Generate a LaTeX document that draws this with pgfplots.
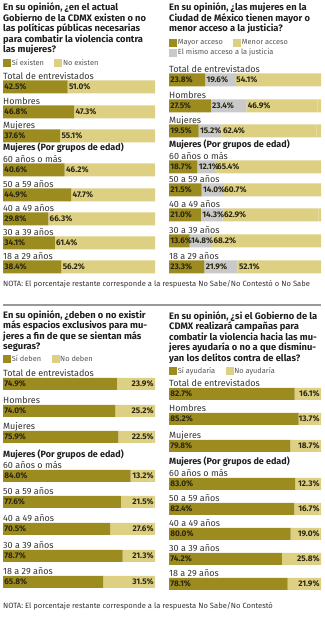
\documentclass[border=0pt]{standalone}
\usepackage{fontspec}
\setmainfont{Fira Sans}
\usepackage{pgfplots}
\pgfplotsset{compat=1.18}
\usepackage{pgfplotstable}

\definecolor{cDark}{HTML}{9C8B1E}
\definecolor{cLight}{HTML}{DDD083}
\definecolor{cGray}{HTML}{C9C9C9}
\definecolor{cTitle}{HTML}{1F1F1F}
\definecolor{cLab}{HTML}{333333}
\definecolor{cNum}{HTML}{2A2612}
\definecolor{cLeg}{HTML}{555555}

% y = row position (pt from the bottom of the picture), a = first answer,
% g = same access, b = second answer, r = rest (NS/NC)
\pgfplotstableread{
y a b r
533 42.5 51.0 6.5
508 46.8 47.3 5.9
484 37.6 55.1 7.3
450 40.6 46.2 13.2
425 44.9 47.7 7.4
401 29.8 66.3 3.9
377 34.1 61.4 4.5
353 38.4 56.2 5.4
}\tabA
\pgfplotstableread{
y a g b r
540 23.8 19.6 54.1 2.5
514 27.5 23.4 46.9 2.2
489 19.5 15.2 62.4 2.9
453 18.7 12.1 65.4 3.8
430 21.5 14.0 60.7 3.8
405 21.0 14.3 62.9 1.8
379 13.6 14.8 68.2 3.4
353 23.3 21.9 52.1 2.7
}\tabB
\pgfplotstableread{
y a b r
236 74.9 23.9 1.2
209 74.0 25.2 0.8
183 75.9 22.5 1.6
144 84.0 13.2 2.8
118 77.6 21.5 0.9
91 70.5 27.6 1.9
64 78.7 21.3 0.0
38 65.8 31.5 2.7
}\tabC
\pgfplotstableread{
y a b r
226 82.7 16.1 1.2
201 85.2 13.7 1.1
174 79.8 18.7 1.5
136 83.0 12.3 4.7
111 82.4 16.7 0.9
86 80.0 19.0 1.0
61 74.2 25.8 0.0
36 78.1 21.9 0.0
}\tabD

\tikzset{numfont/.style={font=\bfseries\fontsize{8.2}{9}\selectfont, text=cNum}}
\newcommand{\pct}{\pgfmathprintnumber[fixed,fixed zerofill,precision=1,assume math mode=true]{\pgfplotspointmeta}\%}
\pgfplotsset{
  base/.style={
    x=1.52pt, y=1pt,
    xmin=0, xmax=100, ymin=0, ymax=620,
    enlargelimits=false, scale only axis, clip=false,
    anchor=south west,
  },
  panel/.style={
    base, xbar stacked,
    axis line style={draw=none}, tick style={draw=none}, major tick length=0pt,
    xtick=\empty,
    yticklabels={Total de entrevistados,Hombres,Mujeres,60 años o más,50 a 59 años,40 a 49 años,30 a 39 años,18 a 29 años},
    yticklabel style={anchor=base west, inner sep=0pt, yshift=7.3pt, font=\fontsize{9}{10}\selectfont, text=cLab},
    bar width=13pt,
    legend columns=2, legend cell align=left,
    legend style={draw=none, fill=none, inner sep=0pt, anchor=west,
      font=\fontsize{7.4}{8}\selectfont, text=cLeg,
      nodes={inner sep=1.3pt},
      /tikz/every even column/.append style={column sep=9pt}},
  },
  labax/.style={base, hide axis},
  sq/.style={legend image code/.code={\fill[#1] (0pt,-3.5pt) rectangle (7pt,3.5pt);}},
  plain/.style={draw=none, fill=#1, forget plot},
  lab/.style={draw=none, no marks,
    nodes near coords={\pct}, point meta=explicit,
    every node near coord/.append style={anchor=#1, inner xsep=1.2pt, inner ysep=0pt, numfont}},
}

\begin{document}
\begin{tikzpicture}[x=1pt,y=1pt]
\useasboundingbox (0,0) rectangle (324,620);
\fill[white] (0,0) rectangle (324,620);

% ---------- Titles ----------
\begin{scope}[every node/.style={anchor=north west, inner sep=0pt, align=left, text=cTitle,
    font=\bfseries\fontsize{9.35}{10.6}\selectfont}]
\node at (3,617.5) {En su opinión, ¿en el actual\\Gobierno de la CDMX existen o no\\las políticas públicas necesarias\\para combatir la violencia contra\\las mujeres?};
\node at (169,617.5) {En su opinión, ¿las mujeres en la\\Ciudad de México tienen mayor o\\menor acceso a la justicia?};
\node at (3,310) {En su opinión, ¿deben o no existir\\más espacios exclusivos para mu-\\jeres a fin de que se sientan más\\seguras?};
\node at (169,309) {En su opinión, ¿si el Gobierno de la\\CDMX realizará campañas para\\combatir la violencia hacia las mu-\\jeres ayudaría o no a que disminu-\\yan los delitos contra de ellas?};
\end{scope}

% ---------- Panel 1 ----------
\begin{axis}[panel, at={(3pt,0pt)},
  ytick={533,508,484,450,425,401,377,353},
  legend style={at={(axis cs:0,557)}}]
\addlegendimage{sq=cDark}\addlegendentry{Sí existen}
\addlegendimage{sq=cLight}\addlegendentry{No existen}
\addplot[plain=cDark] table[x=a,y=y]{\tabA};
\addplot[plain=cLight] table[x=b,y=y]{\tabA};
\addplot[plain=cLight] table[x=r,y=y]{\tabA};
\node[anchor=west, inner sep=0pt, font=\bfseries\fontsize{9}{10}\selectfont, text=cTitle] at (axis cs:0,472) {Mujeres (Por grupos de edad)};
\end{axis}
\begin{axis}[labax, at={(3pt,0pt)}]
\addplot[lab=west] table[x expr=0,y=y,meta=a]{\tabA};
\addplot[lab=west] table[x=a,y=y,meta=b]{\tabA};
\end{axis}

% ---------- Panel 2 ----------
\begin{axis}[panel, at={(169pt,0pt)},
  ytick={540,514,489,453,430,405,379,353},
  legend style={at={(axis cs:0,572)}}]
\addlegendimage{sq=cDark}\addlegendentry{Mayor acceso}
\addlegendimage{sq=cLight}\addlegendentry{Menor acceso}
\addlegendimage{sq=cGray}\addlegendentry{\makebox[0pt][l]{El mismo acceso a la justicia}}
\addplot[plain=cDark] table[x=a,y=y]{\tabB};
\addplot[plain=cGray] table[x=g,y=y]{\tabB};
\addplot[plain=cLight] table[x=b,y=y]{\tabB};
\addplot[plain=cLight] table[x=r,y=y]{\tabB};
\node[anchor=west, inner sep=0pt, font=\bfseries\fontsize{9}{10}\selectfont, text=cTitle] at (axis cs:0,475) {Mujeres (Por grupos de edad)};
\end{axis}
\begin{axis}[labax, at={(169pt,0pt)}]
\addplot[lab=west] table[x expr=0,y=y,meta=a]{\tabB};
\addplot[lab=west] table[x=a,y=y,meta=g]{\tabB};
\addplot[lab=west] table[x expr=\thisrow{a}+\thisrow{g},y=y,meta=b]{\tabB};
\end{axis}

% ---------- Panel 3 ----------
\begin{axis}[panel, at={(3pt,0pt)}, bar width=12pt,
  ytick={236,209,183,144,118,91,64,38},
  legend style={at={(axis cs:0,261)}}]
\addlegendimage{sq=cDark}\addlegendentry{Sí deben}
\addlegendimage{sq=cLight}\addlegendentry{No deben}
\addplot[plain=cDark] table[x=a,y=y]{\tabC};
\addplot[plain=cLight] table[x=b,y=y]{\tabC};
\addplot[plain=cLight] table[x=r,y=y]{\tabC};
\node[anchor=west, inner sep=0pt, font=\bfseries\fontsize{9}{10}\selectfont, text=cTitle] at (axis cs:0,165) {Mujeres (Por grupos de edad)};
\end{axis}
\begin{axis}[labax, at={(3pt,0pt)}]
\addplot[lab=west] table[x expr=0,y=y,meta=a]{\tabC};
\addplot[lab=east] table[x expr=100,y=y,meta=b]{\tabC};
\end{axis}

% ---------- Panel 4 ----------
\begin{axis}[panel, at={(169pt,0pt)}, bar width=12pt,
  ytick={226,201,174,136,111,86,61,36},
  legend style={at={(axis cs:0,249)}}]
\addlegendimage{sq=cDark}\addlegendentry{Sí ayudaría}
\addlegendimage{sq=cLight}\addlegendentry{No ayudaría}
\addplot[plain=cDark] table[x=a,y=y]{\tabD};
\addplot[plain=cLight] table[x=b,y=y]{\tabD};
\addplot[plain=cLight] table[x=r,y=y]{\tabD};
\node[anchor=west, inner sep=0pt, font=\bfseries\fontsize{9}{10}\selectfont, text=cTitle] at (axis cs:0,158) {Mujeres (Por grupos de edad)};
\end{axis}
\begin{axis}[labax, at={(169pt,0pt)}]
\addplot[lab=west] table[x expr=0,y=y,meta=a]{\tabD};
\addplot[lab=east] table[x expr=100,y=y,meta=b]{\tabD};
\end{axis}

% ---------- Notes and separator ----------
\node[anchor=west, inner sep=0pt, font=\fontsize{7.6}{8}\selectfont, text=cLab] at (3,336) {NOTA: El porcentaje restante corresponde a la respuesta No Sabe/No Contestó o No Sabe};
\draw[black!40, line width=1.2pt] (3,315) -- (321,315);
\node[anchor=west, inner sep=0pt, font=\fontsize{7.6}{8}\selectfont, text=cLab] at (3,14) {NOTA: El porcentaje restante corresponde a la respuesta No Sabe/No Contestó};
\end{tikzpicture}
\end{document}
